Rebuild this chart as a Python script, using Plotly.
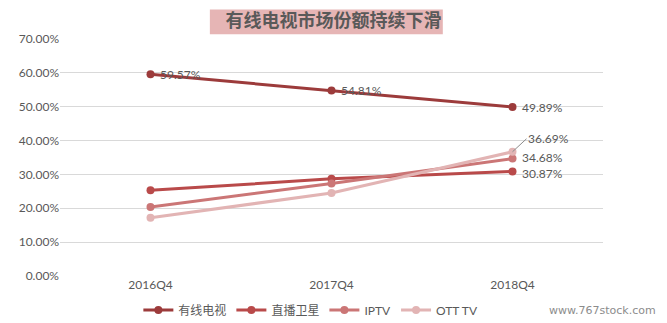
import plotly.graph_objects as go

quarters = ["2016Q4", "2017Q4", "2018Q4"]
cable_tv = [59.57, 54.81, 49.89]
satellite = [25.3, 28.7, 30.87]
iptv = [20.4, 27.3, 34.68]
ott_tv = [17.2, 24.5, 36.69]

series = [
    ("有线电视", cable_tv, "#9C3B3B"),
    ("直播卫星", satellite, "#B94A4A"),
    ("IPTV", iptv, "#CB7676"),
    ("OTT TV", ott_tv, "#E2B4B4"),
]

font_family = "Lato, 'Noto Sans CJK SC', sans-serif"
text_color = "#595959"

fig = go.Figure()
for name, vals, color in series:
    fig.add_trace(go.Scatter(
        x=quarters, y=vals, name=name, mode="lines+markers",
        line=dict(color=color, width=3),
        marker=dict(color=color, size=8),
        hoverinfo="skip",
    ))

# value labels to the right of the markers (small vertical nudges keep
# the closely spaced 2018Q4 labels apart)
labels = [
    (quarters[0], cable_tv[0], 0),
    (quarters[1], cable_tv[1], 0),
    (quarters[2], cable_tv[2], 0),
    (quarters[2], iptv[2], 1),
    (quarters[2], satellite[2], -2),
]
for x, y, nudge in labels:
    fig.add_annotation(
        x=x, y=y, text=f"{y:.2f}%", showarrow=False,
        xanchor="left", yanchor="middle", xshift=8, yshift=nudge,
        borderpad=0,
        font=dict(size=12, color=text_color, family=font_family),
    )

# OTT TV end label with leader line
fig.add_annotation(
    x=quarters[2], y=ott_tv[2], text=f"{ott_tv[2]:.2f}%",
    showarrow=True, arrowhead=0, arrowwidth=1, arrowcolor="#8C8C8C",
    ax=14, ay=-13, xanchor="left", yanchor="middle", borderpad=0,
    font=dict(size=12, color=text_color, family=font_family),
)

fig.add_annotation(
    xref="paper", yref="paper", x=1.102, y=-0.1435,
    text="www.767stock.com", showarrow=False,
    xanchor="right", yanchor="middle",
    font=dict(size=11, color="#8C8C8C", family="'DejaVu Sans', sans-serif"),
)

fig.update_layout(
    width=667, height=323,
    margin=dict(l=60, r=64, t=39, b=47, autoexpand=False),
    paper_bgcolor="white", plot_bgcolor="white",
    font=dict(family=font_family, color=text_color, size=12),
    title=dict(
        text="<b>有线电视市场份额持续下滑</b>",
        x=0.5, xanchor="center", y=0.935, yanchor="middle",
        font=dict(size=18, color="#595959", family="'Noto Sans CJK SC', sans-serif"),
    ),
    showlegend=True,
    legend=dict(
        orientation="h", x=0.462, xanchor="center",
        yref="paper", y=-0.1435, yanchor="middle",
        font=dict(size=12, color=text_color, family=font_family),
        itemwidth=30, tracegroupgap=0,
    ),
    xaxis=dict(
        range=[-0.5, 2.5], showgrid=False, zeroline=False, showline=False,
        ticks="", tickfont=dict(size=12, color=text_color),
    ),
    yaxis=dict(
        range=[0, 70], dtick=10, ticksuffix="%", tickformat=".2f",
        showgrid=True, gridcolor="#D9D9D9", gridwidth=1, zeroline=False,
        showline=False, tickfont=dict(size=12, color=text_color),
    ),
)

# title backdrop
fig.add_shape(
    type="rect", xref="paper", yref="paper",
    x0=0.276, x1=0.705, y0=1.02, y1=1.125,
    fillcolor="#E6B5B5", line=dict(width=0), layer="below",
)

fig.write_html("out.html")
